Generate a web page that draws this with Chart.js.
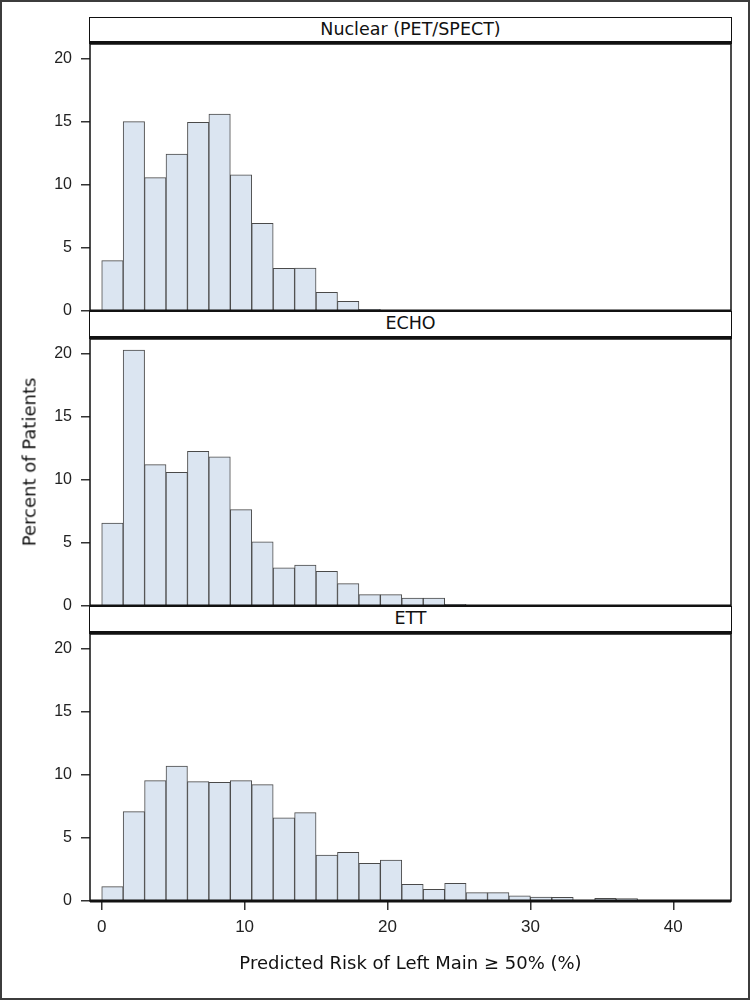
<!DOCTYPE html>
<html lang="en">
  <head>
    <meta charset="UTF-8" />
    <title>Predicted Risk of Left Main by Test</title>
    <script src="https://cdn.jsdelivr.net/npm/chart.js"></script>
    <style>
      body {
        margin: 0;
        background: #fff;
        font-family: "DejaVu Sans", sans-serif;
      }
      .page {
        position: relative;
        width: 750px;
        height: 1000px;
        overflow: hidden;
      }
      .outer {
        position: absolute;
        left: 0;
        top: 0;
        width: 750px;
        height: 1000px;
        box-sizing: border-box;
        border: 2px solid #3c3c3c;
      }
      canvas {
        position: absolute;
        left: 0;
      }
      .strip {
        position: absolute;
        left: 89px;
        width: 643px;
        box-sizing: border-box;
        border: 1.5px solid #111;
        border-bottom: 3px solid #111;
        background: #fff;
        text-align: center;
        font-size: 17.5px;
        line-height: 22px;
        color: #111;
      }
      .ylabel {
        position: absolute;
        left: 29px;
        top: 462px;
        transform: translate(-50%, -50%) rotate(-90deg);
        white-space: nowrap;
        font-size: 18px;
        color: #111;
      }
    </style>
  </head>
  <body>
    <div class="page">
      <div class="outer"></div>
      <canvas id="nuclearChart" width="750" height="307" style="top: 24px"></canvas>
      <canvas id="echoChart" width="750" height="307" style="top: 319px"></canvas>
      <canvas id="ettChart" width="750" height="386" style="top: 614px"></canvas>
      <div class="strip" id="strip0" style="top: 17px; height: 27px"></div>
      <div class="strip" id="strip1" style="top: 311px; height: 28px"></div>
      <div class="strip" id="strip2" style="top: 606px; height: 28px"></div>
      <div class="ylabel" id="yTitle"></div>
    </div>
    <script>
      // histogram bins are 1.5 wide, starting at 0
      const binMids = [
        0.75, 2.25, 3.75, 5.25, 6.75, 8.25, 9.75, 11.25, 12.75, 14.25, 15.75, 17.25, 18.75, 20.25, 21.75,
        23.25, 24.75, 26.25, 27.75, 29.25, 30.75, 32.25, 33.75, 35.25, 36.75, 38.25, 39.75, 41.25, 42.75,
      ];
      const nuclearPct = [4.0, 15.03, 10.58, 12.46, 14.97, 15.63, 10.8, 6.96, 3.39, 3.41, 1.48, 0.77, 0.13];
      const echoPct = [
        6.59, 20.32, 11.22, 10.61, 12.28, 11.83, 7.65, 5.1, 3.02, 3.25, 2.75, 1.77, 0.9, 0.9, 0.63, 0.63, 0.13,
      ];
      const ettPct = [
        1.14, 7.09, 9.55, 10.71, 9.47, 9.42, 9.55, 9.23, 6.61, 7.01, 3.65, 3.86, 2.99, 3.25, 1.32, 0.93, 1.4,
        0.66, 0.66, 0.42, 0.32, 0.29, 0.03, 0.21, 0.19, 0.05, 0.05, 0.03, 0.03,
      ];
      const xTicks = [0, 10, 20, 30, 40];
      const yTicks = [0, 5, 10, 15, 20];
      const panelNames = ["Nuclear (PET/SPECT)", "ECHO", "ETT"];
      const xTitle = "Predicted Risk of Left Main \u2265 50% (%)";
      const yTitle = "Percent of Patients";

      Chart.defaults.font.family = "Liberation Sans";
      Chart.defaults.color = "#222";

      // box around each panel plus the heavy zero line
      const panelFrame = {
        id: "panelFrame",
        afterDatasetsDraw(chart) {
          const { ctx, chartArea: a, scales } = chart;
          ctx.save();
          ctx.strokeStyle = "#111";
          ctx.lineWidth = 1.5;
          ctx.strokeRect(a.left, a.top, a.right - a.left, a.bottom - a.top);
          const y0 = scales.y.getPixelForValue(0);
          ctx.lineWidth = 3;
          ctx.beginPath();
          ctx.moveTo(a.left, y0);
          ctx.lineTo(a.right, y0);
          ctx.stroke();
          ctx.restore();
        },
      };

      function makePanel(id, pct, isBottom) {
        const points = pct.map((v, i) => ({ x: binMids[i], y: v }));
        const xScale = {
          type: "linear",
          min: -0.82,
          max: 44.04,
          offset: false,
          display: isBottom,
          afterBuildTicks: (s) => {
            s.ticks = xTicks.map((v) => ({ value: v }));
          },
          ticks: { font: { size: 17 }, padding: 7, color: "#222" },
          grid: { offset: false, drawOnChartArea: false, tickLength: 9, color: "#333", lineWidth: 1.5 },
          border: { display: false },
          title: {
            display: true,
            text: xTitle,
            font: { family: "DejaVu Sans", size: 18 },
            color: "#111",
            padding: { top: 0, bottom: 25 },
          },
        };
        if (isBottom) {
          xScale.afterFit = (s) => {
            s.height = 99;
          };
        }
        return new Chart(document.getElementById(id), {
          type: "bar",
          data: {
            datasets: [
              {
                data: points,
                backgroundColor: "#dbe5f1",
                borderColor: "#4a4a4a",
                borderWidth: 1,
                borderSkipped: "start",
                barPercentage: 1,
                categoryPercentage: 1,
              },
            ],
          },
          options: {
            responsive: false,
            animation: false,
            events: [],
            layout: { padding: { left: 0, right: 19, top: 20, bottom: isBottom ? 0 : 20 } },
            plugins: { legend: { display: false }, tooltip: { enabled: false } },
            scales: {
              x: xScale,
              y: {
                min: 0,
                max: 21.19,
                afterBuildTicks: (s) => {
                  s.ticks = yTicks.map((v) => ({ value: v }));
                },
                afterFit: (s) => {
                  s.width = 90;
                },
                ticks: { font: { size: 16 }, padding: 9, color: "#222" },
                grid: { drawOnChartArea: false, tickLength: 9, color: "#333", lineWidth: 1.5 },
                border: { display: false },
              },
            },
          },
          plugins: [panelFrame],
        });
      }

      document.addEventListener("DOMContentLoaded", () => {
        panelNames.forEach((name, i) => {
          document.getElementById("strip" + i).textContent = name;
        });
        document.getElementById("yTitle").textContent = yTitle;
        makePanel("nuclearChart", nuclearPct, false);
        makePanel("echoChart", echoPct, false);
        makePanel("ettChart", ettPct, true);
      });
    </script>
  </body>
</html>
